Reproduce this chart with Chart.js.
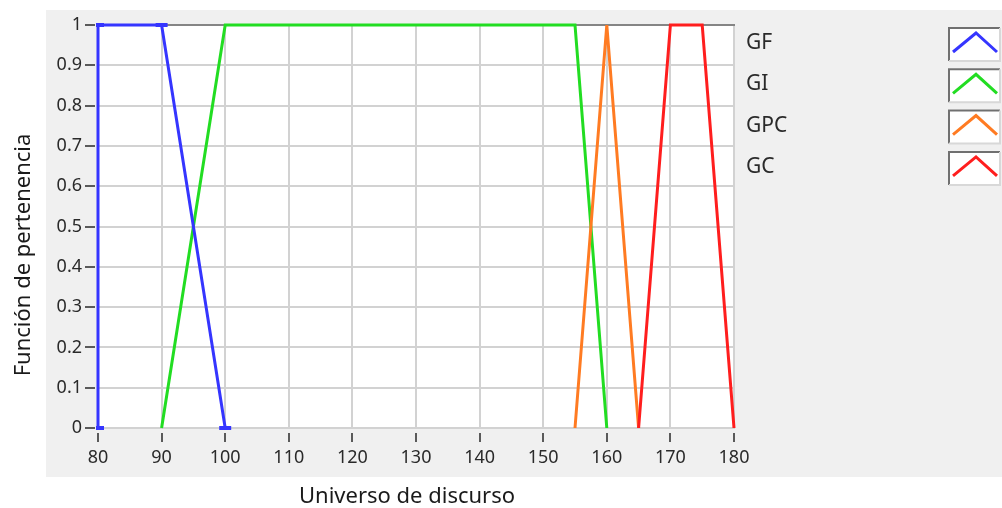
<!DOCTYPE html>
<html>
<head>
<meta charset="utf-8">
<script src="https://cdn.jsdelivr.net/npm/chart.js@4/dist/chart.umd.min.js"></script>
<style>
    html, body { margin: 0; padding: 0; background: #fff; }
    #wrap { width: 1002px; height: 508px; }
</style>
</head>
<body>
<div id="wrap"><canvas id="fuzzy-chart" width="1002" height="508"></canvas></div>
<script>
// Membership functions (universe of discourse vs membership degree)
const seriesNames = ['GF', 'GI', 'GPC', 'GC'];
const gfX = [80, 80, 90, 100];
const gfY = [0, 1, 1, 0];
const giX = [90, 100, 155, 160];
const giY = [0, 1, 1, 0];
const gpcX = [155, 160, 165];
const gpcY = [0, 1, 0];
const gcX = [165, 170, 175, 180];
const gcY = [0, 1, 1, 0];
const xTickLabels = ['80', '90', '100', '110', '120', '130', '140', '150', '160', '170', '180'];
const yTickLabels = ['0', '0.1', '0.2', '0.3', '0.4', '0.5', '0.6', '0.7', '0.8', '0.9', '1'];

const colors = ['#3535ff', '#22dd22', '#ff7b22', '#ff1e1e'];
const font = '"Noto Sans", "Open Sans", sans-serif';

function toPoints(xs, ys) {
    return xs.map(function(x, i) { return { x: x, y: ys[i] }; });
}

// Background panel, tick marks, top border, titles and LabVIEW-like legend
const panelPlugin = {
    id: 'panel',
    beforeDraw: function(chart) {
        const ctx = chart.ctx, a = chart.chartArea;
        ctx.save();
        ctx.fillStyle = '#ffffff';
        ctx.fillRect(0, 0, chart.width, chart.height);
        ctx.fillStyle = '#f0f0f0';
        ctx.fillRect(46, 10, chart.width - 46, 467);
        ctx.fillStyle = '#ffffff';
        ctx.fillRect(a.left, a.top, a.right - a.left, a.bottom - a.top);
        ctx.restore();
    },
    beforeDatasetsDraw: function(chart) {
        const ctx = chart.ctx, a = chart.chartArea;
        const xs = chart.scales.x, ys = chart.scales.y;
        ctx.save();
        ctx.strokeStyle = '#858585';
        ctx.lineWidth = 2;
        ctx.beginPath();
        ctx.moveTo(a.left, a.top);
        ctx.lineTo(a.right + 1, a.top);
        ctx.stroke();

        // short outside tick marks with a small gap, LabVIEW style
        ctx.strokeStyle = '#5a5a5a';
        ctx.beginPath();
        xs.ticks.forEach(function(t) {
            const px = Math.round(xs.getPixelForValue(t.value));
            ctx.moveTo(px, a.bottom + 5);
            ctx.lineTo(px, a.bottom + 14);
        });
        ys.ticks.forEach(function(t) {
            const py = Math.round(ys.getPixelForValue(t.value));
            ctx.moveTo(a.left - 13, py);
            ctx.lineTo(a.left - 3, py);
        });
        ctx.stroke();
        ctx.restore();
    },
    afterDraw: function(chart) {
        const ctx = chart.ctx, a = chart.chartArea;
        ctx.save();
        ctx.fillStyle = '#1a1a1a';
        ctx.font = '22px ' + font;
        ctx.textAlign = 'center';
        ctx.textBaseline = 'middle';
        // axis titles
        ctx.fillText('Universo de discurso', 407, 497);
        ctx.save();
        ctx.translate(24, 255);
        ctx.rotate(-Math.PI / 2);
        ctx.fillText('Función de pertenencia', 0, 0);
        ctx.restore();

        // legend
        ctx.font = '21px ' + font;
        ctx.textAlign = 'left';
        ctx.fillStyle = '#2a2a2a';
        chart.data.datasets.forEach(function(ds, i) {
            const y = 43 + i * 41.3;
            ctx.fillText(ds.label, a.right + 12, y);
            const bx = 948, by = 27 + i * 41.3, bw = 52, bh = 34;
            ctx.fillStyle = '#ffffff';
            ctx.fillRect(bx, by, bw, bh);
            ctx.strokeStyle = '#707070';
            ctx.lineWidth = 2;
            ctx.beginPath();
            ctx.moveTo(bx + 1, by + bh);
            ctx.lineTo(bx + 1, by + 1);
            ctx.lineTo(bx + bw, by + 1);
            ctx.stroke();
            ctx.strokeStyle = '#d8d8d8';
            ctx.beginPath();
            ctx.moveTo(bx + bw, by + 1);
            ctx.lineTo(bx + bw, by + bh);
            ctx.lineTo(bx + 1, by + bh);
            ctx.stroke();
            ctx.strokeStyle = ds.borderColor;
            ctx.lineWidth = 3;
            ctx.beginPath();
            ctx.moveTo(bx + 5, by + 25);
            ctx.lineTo(bx + 28, by + 6);
            ctx.lineTo(bx + 49, by + 25);
            ctx.stroke();
            ctx.fillStyle = '#2a2a2a';
        });
        ctx.restore();
    }
};

const allX = [gfX, giX, gpcX, gcX];
const allY = [gfY, giY, gpcY, gcY];

const datasets = seriesNames.map(function(name, i) {
    return {
        label: name,
        data: toPoints(allX[i], allY[i]),
        borderColor: colors[i],
        backgroundColor: colors[i],
        borderWidth: 3,
        pointRadius: i === 0 ? 6 : 0,
        pointStyle: 'line',
        pointBorderWidth: 4,
        pointBorderColor: colors[i],
        tension: 0,
        clip: 2,
        order: i === 0 ? 0 : 5 - i
    };
});

new Chart(document.getElementById('fuzzy-chart'), {
    type: 'line',
    data: { datasets: datasets },
    options: {
        responsive: false,
        animation: false,
        events: [],
        layout: { padding: { left: 0, right: 268, top: 25, bottom: 0 } },
        plugins: {
            legend: { display: false },
            tooltip: { enabled: false }
        },
        scales: {
            x: {
                type: 'linear',
                min: Number(xTickLabels[0]),
                max: Number(xTickLabels[xTickLabels.length - 1]),
                afterBuildTicks: function(scale) {
                    scale.ticks = xTickLabels.map(function(t) { return { value: Number(t) }; });
                },
                afterFit: function(scale) { scale.height = 80; },
                ticks: {
                    callback: function(v, i) { return xTickLabels[i]; },
                    color: '#2a2a2a',
                    font: { family: font, size: 18 },
                    padding: 6,
                    maxRotation: 0
                },
                grid: {
                    color: '#d2d2d2',
                    lineWidth: 2,
                    tickLength: 13,
                    tickColor: 'rgba(0,0,0,0)'
                },
                border: { display: true, color: '#d2d2d2', width: 2 }
            },
            y: {
                type: 'linear',
                min: 0,
                max: 1,
                afterBuildTicks: function(scale) {
                    scale.ticks = yTickLabels.map(function(t) { return { value: Number(t) }; });
                },
                afterFit: function(scale) { scale.width = 98; },
                ticks: {
                    callback: function(v, i) { return yTickLabels[i]; },
                    color: '#2a2a2a',
                    font: { family: font, size: 18 },
                    padding: 5
                },
                grid: {
                    color: '#d2d2d2',
                    lineWidth: 2,
                    tickLength: 11,
                    tickColor: 'rgba(0,0,0,0)'
                },
                border: { display: true, color: '#d2d2d2', width: 2 }
            }
        }
    },
    plugins: [panelPlugin]
});
</script>
</body>
</html>
